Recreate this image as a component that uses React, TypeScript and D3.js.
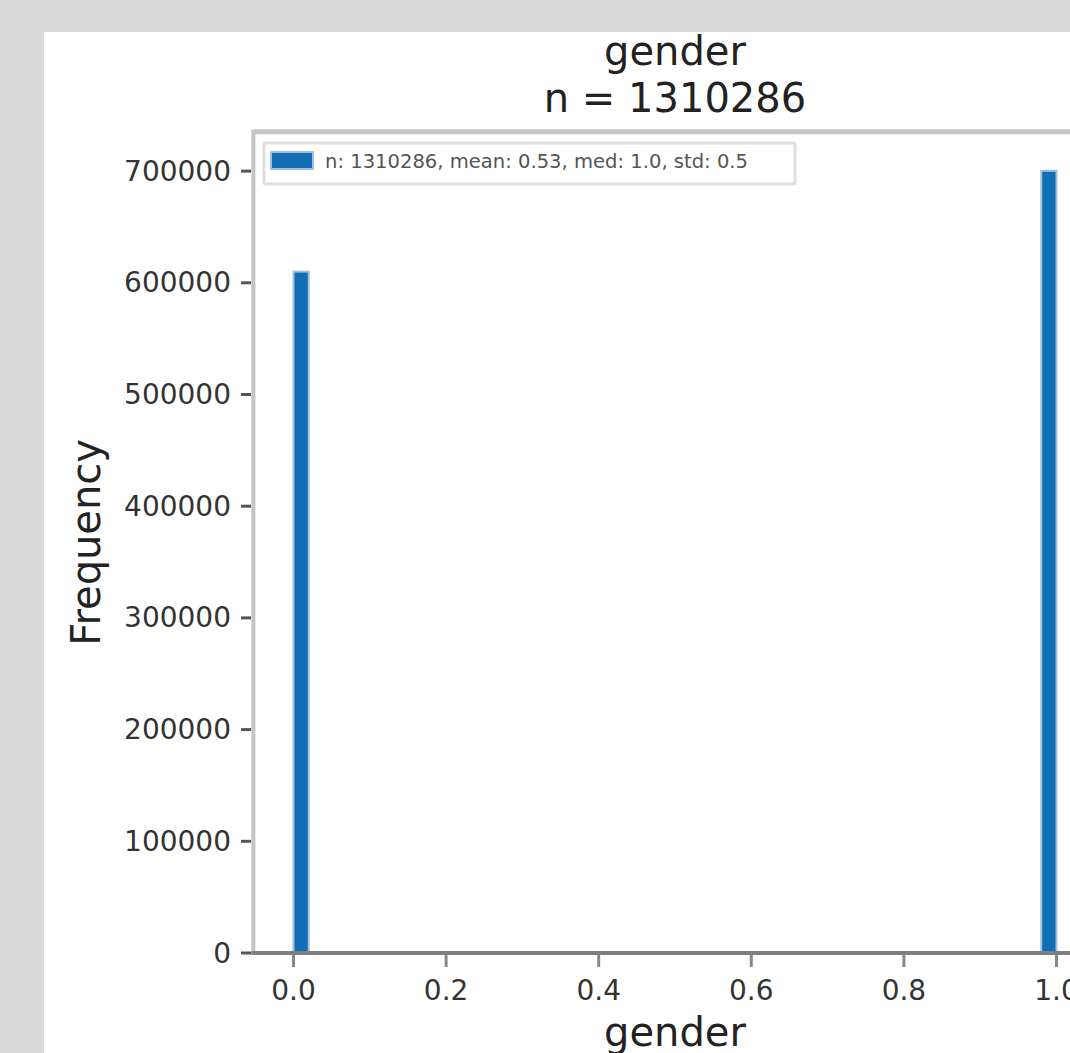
import React from "react";
import * as d3 from "d3";

const binStarts = [0.0, 0.98];
const binWidth = 0.02;
const counts = [610000, 700286];
const xTicks = [0.0, 0.2, 0.4, 0.6, 0.8, 1.0];
const yTicks = [0, 100000, 200000, 300000, 400000, 500000, 600000, 700000];
const titleLines = ["gender", "n = 1310286"];
const legendText = "n: 1310286, mean: 0.53, med: 1.0, std: 0.5";
const xLabel = "gender";
const yLabel = "Frequency";

const W = 1070;
const H = 1053;
const FONT = "DejaVu Sans, sans-serif";

export default function App() {
  const x = d3.scaleLinear().domain([-0.05, 1.05]).range([255.35, 1094.65]);
  const yMax = 1.05 * (d3.max(counts) as number);
  const y = d3.scaleLinear().domain([0, 100000]).range([953, 841.3]);
  const yTop = y(yMax);
  const left = x(-0.05);
  const bottom = y(0);
  const barColor = "#116db4";

  return (
    <div style={{ position: "absolute", left: 0, top: 0 }}>
      <svg width={W} height={H} style={{ display: "block", fontFamily: FONT }}>
        <rect x={0} y={0} width={W} height={H} fill="#d9d9d9" />
        <rect x={44} y={32} width={W - 44} height={H - 32} fill="#ffffff" />

        {/* bars */}
        {binStarts.map((b, i) => (
          <rect
            key={i}
            x={x(b)}
            y={y(counts[i])}
            width={x(b + binWidth) - x(b)}
            height={bottom - y(counts[i])}
            fill={barColor}
            stroke="#9fc0df"
            strokeWidth={2}
          />
        ))}

        {/* spines */}
        <line x1={left - 2} x2={W} y1={yTop} y2={yTop} stroke="#c6c6c6" strokeWidth={5} />
        <line x1={left - 2} x2={left - 2} y1={yTop - 2} y2={bottom + 2} stroke="#c4c4c4" strokeWidth={4} />
        <line x1={left - 4} x2={W} y1={bottom} y2={bottom} stroke="#7f7f7f" strokeWidth={4} />

        {/* y ticks */}
        {yTicks.map((t) => (
          <g key={t}>
            <line x1={241} x2={251} y1={y(t)} y2={y(t)} stroke="#555" strokeWidth={3} />
            <text
              x={231}
              y={y(t)}
              textAnchor="end"
              dominantBaseline="central"
              fontSize={28}
              fill="#333"
            >
              {t}
            </text>
          </g>
        ))}

        {/* x ticks */}
        {xTicks.map((t) => (
          <g key={t}>
            <line x1={x(t)} x2={x(t)} y1={955} y2={967} stroke="#888" strokeWidth={3} />
            <text x={x(t)} y={1000} textAnchor="middle" fontSize={28} fill="#333">
              {t.toFixed(1)}
            </text>
          </g>
        ))}

        {/* title */}
        {titleLines.map((l, i) => (
          <text key={i} x={(left + x(1.05)) / 2} y={65 + i * 47} textAnchor="middle" fontSize={40} fill="#222">
            {l}
          </text>
        ))}

        {/* axis labels */}
        <text x={(left + x(1.05)) / 2} y={1046} textAnchor="middle" fontSize={40} fill="#222">
          {xLabel}
        </text>
        <text
          transform={`translate(100, ${(yTop + bottom) / 2}) rotate(-90)`}
          textAnchor="middle"
          fontSize={40}
          fill="#222"
        >
          {yLabel}
        </text>

        {/* legend */}
        <rect x={264} y={143} width={531} height={41} fill="#fff" stroke="#dedede" strokeWidth={3} rx={2} />
        <rect x={271} y={152} width={42} height={17} fill={barColor} stroke="#9fc0df" strokeWidth={2} />
        <text x={325} y={168} fontSize={19} fill="#555" textLength={423} lengthAdjust="spacingAndGlyphs">
          {legendText}
        </text>
      </svg>
    </div>
  );
}
